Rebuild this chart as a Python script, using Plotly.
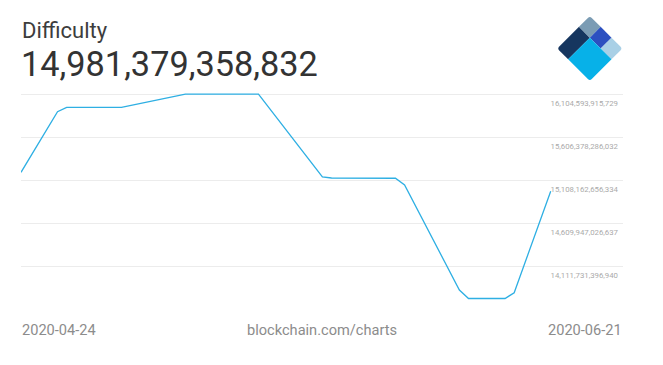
import plotly.graph_objects as go
import pandas as pd
import math

# ---- data ----
dates = ["2020-04-24", "2020-04-28", "2020-04-29", "2020-05-05", "2020-05-12",
         "2020-05-20", "2020-05-27", "2020-05-28", "2020-06-04", "2020-06-05",
         "2020-06-11", "2020-06-12", "2020-06-16", "2020-06-17", "2020-06-21"]
difficulty = [15.200e12, 15.900e12, 15.951e12, 15.951e12, 16.103e12,
              16.103e12, 15.146e12, 15.134e12, 15.131e12, 15.053e12,
              13.840e12, 13.742e12, 13.742e12, 13.809e12, 14981379358832]
tick_values = [16104593915729, 15606378286032, 15108162656334,
               14609947026637, 14111731396940]
title_text = "Difficulty"
current_value = "14,981,379,358,832"
footer_labels = ["2020-04-24", "blockchain.com/charts", "2020-06-21"]

# ---- layout geometry ----
W, H = 663, 365
ML, MR, MT, MB = 21, 40, 84, 55
PW, PH = W - ML - MR, H - MT - MB
grid_px = 43.125
top_grid_y = 94
per_px = (tick_values[0] - tick_values[1]) / grid_px
y_top = tick_values[0] + (top_grid_y - MT) * per_px
y_bot = y_top - PH * per_px
px_per_day = 9.133
x_start = pd.Timestamp(dates[0])
x_end = x_start + pd.Timedelta(days=PW / px_per_day)


def px(x):
    return (x - ML) / PW


def py(y):
    return (H - MB - y) / PH


fig = go.Figure()
fig.add_trace(go.Scatter(
    x=dates, y=difficulty, mode="lines",
    line=dict(color="#2eafe3", width=1.3),
    hoverinfo="skip", showlegend=False,
))

fig.update_layout(
    width=W, height=H,
    margin=dict(l=ML, r=MR, t=MT, b=MB),
    paper_bgcolor="white", plot_bgcolor="white",
    font=dict(family="Roboto", color="#888"),
    xaxis=dict(range=[x_start, x_end], showgrid=False, zeroline=False,
               showticklabels=False, ticks="", showline=False),
    yaxis=dict(range=[y_bot, y_top], side="right",
               tickvals=tick_values,
               ticktext=[f"{v:,}" for v in tick_values],
               ticklabelposition="inside", ticklabelshift=9,
               ticklabelstandoff=2,
               tickfont=dict(size=7.8, color="#aaaaaa", family="Roboto"),
               showgrid=True, gridcolor="#ececec", gridwidth=1,
               zeroline=False, showline=False, ticks=""),
)

# header texts
fig.add_annotation(x=px(20), y=py(31), xref="paper", yref="paper",
                   text=title_text, showarrow=False, xanchor="left", yanchor="middle",
                   font=dict(size=22, color="#3d3d3d", family="Roboto"))
fig.add_annotation(x=px(19), y=py(64), xref="paper", yref="paper",
                   text=current_value, showarrow=False, xanchor="left", yanchor="middle",
                   font=dict(size=34.3, color="#333333", family="Roboto"))

# footer
fig.add_annotation(x=px(20), y=py(330), xref="paper", yref="paper",
                   text=footer_labels[0], showarrow=False, xanchor="left", yanchor="middle",
                   font=dict(size=14.6, color="#8c8c8c", family="Roboto"))
fig.add_annotation(x=0.5, y=py(330), xref="paper", yref="paper",
                   text=footer_labels[1], showarrow=False, xanchor="center", yanchor="middle",
                   font=dict(size=14.6, color="#8c8c8c", family="Roboto"))
fig.add_annotation(x=px(624), y=py(330), xref="paper", yref="paper",
                   text=footer_labels[2], showarrow=False, xanchor="right", yanchor="middle",
                   font=dict(size=14.6, color="#8c8c8c", family="Roboto"))

# logo: diamond split into a 3x3 grid
L = (557.3, 48.5)
unit = 46.0 / 3
s = unit / math.sqrt(2)
A = (s, s)     # toward bottom vertex
B = (s, -s)    # toward top vertex


def pt(a, b):
    x = L[0] + a * A[0] + b * B[0]
    y = L[1] + a * A[1] + b * B[1]
    return px(x), py(y)


def poly(corners, rounded=None, r=0.18):
    parts = []
    n = len(corners)
    for i, (a, b) in enumerate(corners):
        if rounded is not None and i == rounded:
            pa = corners[i - 1]
            pn = corners[(i + 1) % n]
            da = ((pa[0] - a), (pa[1] - b))
            dn = ((pn[0] - a), (pn[1] - b))
            la = math.hypot(*da)
            ln = math.hypot(*dn)
            p1 = pt(a + da[0] / la * r, b + da[1] / la * r)
            p2 = pt(a + dn[0] / ln * r, b + dn[1] / ln * r)
            c = pt(a, b)
            parts.append(f"{'M' if i == 0 else 'L'} {p1[0]},{p1[1]}")
            parts.append(f"Q {c[0]},{c[1]} {p2[0]},{p2[1]}")
        else:
            x, y = pt(a, b)
            parts.append(f"{'M' if i == 0 else 'L'} {x},{y}")
    return " ".join(parts) + " Z"


pieces = [
    ([(0, 0), (1, 0), (1, 2), (0, 2)], 0, "#16365f"),
    ([(0, 2), (1, 2), (1, 3), (0, 3)], 3, "#7b9cb4"),
    ([(1, 2), (2, 2), (2, 3), (1, 3)], None, "#2c50c0"),
    ([(2, 2), (3, 2), (3, 3), (2, 3)], 2, "#a9d0e6"),
    ([(1, 0), (3, 0), (3, 2), (1, 2)], 1, "#07b1e8"),
]
for corners, rnd, col in pieces:
    fig.add_shape(type="path", xref="paper", yref="paper",
                  path=poly(corners, rnd), fillcolor=col,
                  line=dict(width=0), layer="above")

fig.write_html("out.html", config={"displayModeBar": False},
               post_script="document.body.style.margin='0';document.body.style.padding='0';")
